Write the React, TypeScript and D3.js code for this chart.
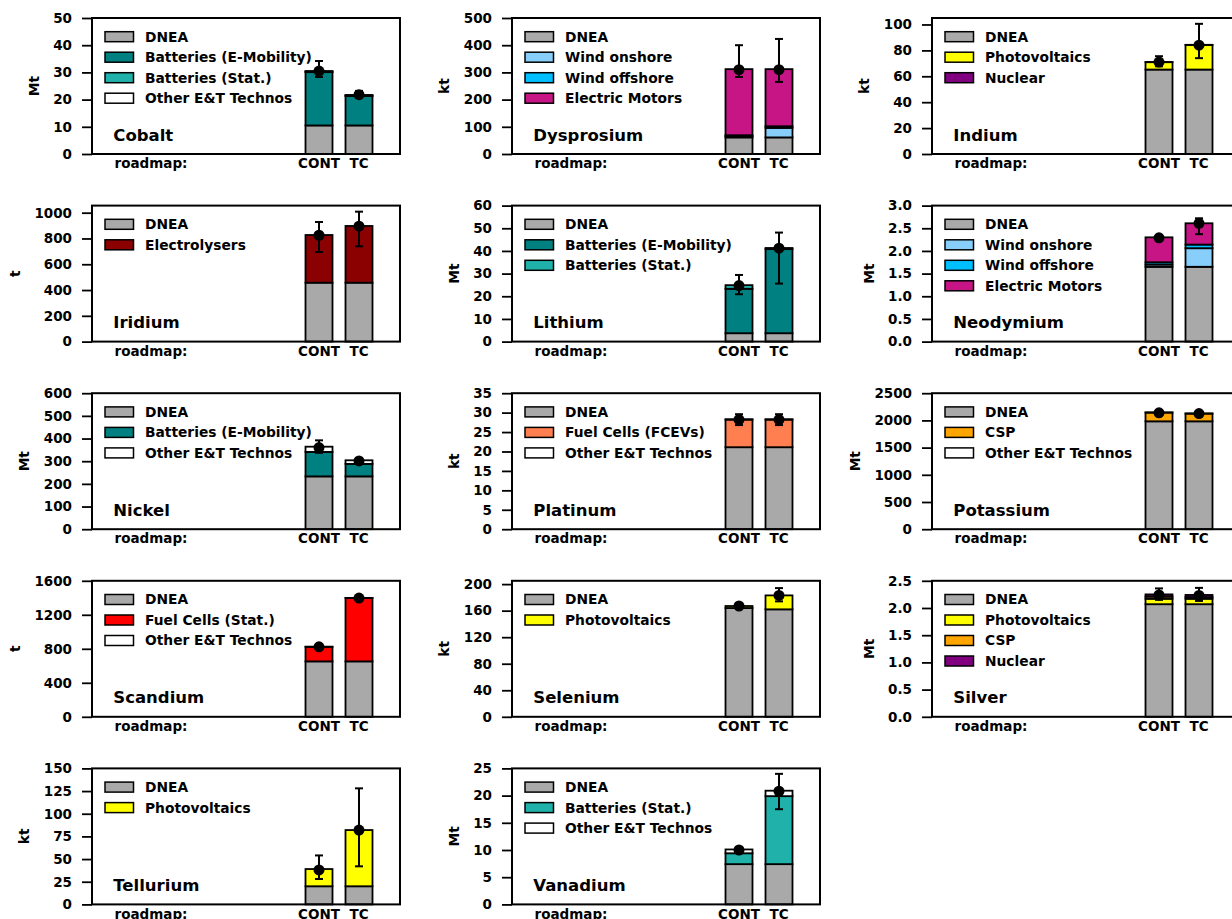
import React, { useEffect, useRef } from "react";
import * as d3 from "d3";

// Raw-material demand by roadmap, split by technology
const roadmaps = ["CONT", "TC"];

const materials = [
  "Cobalt", "Dysprosium", "Indium",
  "Iridium", "Lithium", "Neodymium",
  "Nickel", "Platinum", "Potassium",
  "Scandium", "Selenium", "Silver",
  "Tellurium", "Vanadium",
];

const units = ["Mt", "kt", "kt", "t", "Mt", "Mt", "Mt", "kt", "Mt", "t", "kt", "Mt", "kt", "Mt"];

const yMax = [50, 500, 105, 1055, 60, 3, 600, 35, 2500, 1600, 205, 2.5, 150, 25];

const yTickValues = [
  [0, 10, 20, 30, 40, 50],
  [0, 100, 200, 300, 400, 500],
  [0, 20, 40, 60, 80, 100],
  [0, 200, 400, 600, 800, 1000],
  [0, 10, 20, 30, 40, 50, 60],
  [0, 0.5, 1, 1.5, 2, 2.5, 3],
  [0, 100, 200, 300, 400, 500, 600],
  [0, 5, 10, 15, 20, 25, 30, 35],
  [0, 500, 1000, 1500, 2000, 2500],
  [0, 400, 800, 1200, 1600],
  [0, 40, 80, 120, 160, 200],
  [0, 0.5, 1, 1.5, 2, 2.5],
  [0, 25, 50, 75, 100, 125, 150],
  [0, 5, 10, 15, 20, 25],
];

const tickDecimals = [0, 0, 0, 0, 0, 1, 0, 0, 0, 0, 0, 1, 0, 0];

const legendItems = [
  ["DNEA", "Batteries (E-Mobility)", "Batteries (Stat.)", "Other E&T Technos"],
  ["DNEA", "Wind onshore", "Wind offshore", "Electric Motors"],
  ["DNEA", "Photovoltaics", "Nuclear"],
  ["DNEA", "Electrolysers"],
  ["DNEA", "Batteries (E-Mobility)", "Batteries (Stat.)"],
  ["DNEA", "Wind onshore", "Wind offshore", "Electric Motors"],
  ["DNEA", "Batteries (E-Mobility)", "Other E&T Technos"],
  ["DNEA", "Fuel Cells (FCEVs)", "Other E&T Technos"],
  ["DNEA", "CSP", "Other E&T Technos"],
  ["DNEA", "Fuel Cells (Stat.)", "Other E&T Technos"],
  ["DNEA", "Photovoltaics"],
  ["DNEA", "Photovoltaics", "CSP", "Nuclear"],
  ["DNEA", "Photovoltaics"],
  ["DNEA", "Batteries (Stat.)", "Other E&T Technos"],
];

// one [CONT, TC] pair per legend entry
const layerValues = [
  [[10.5, 10.5], [19.6, 10.8], [0.2, 0.2], [0.2, 0.2]],
  [[61, 61], [4, 35], [4, 6], [243, 210]],
  [[65.2, 65.2], [5.7, 19], [0.1, 0.1]],
  [[457, 457], [370, 440]],
  [[3.7, 3.7], [19.6, 37.1], [1.6, 0.5]],
  [[1.65, 1.65], [0.05, 0.41], [0.05, 0.08], [0.55, 0.47]],
  [[233, 233], [108, 55], [23, 16]],
  [[21.1, 21.1], [7.1, 7.1], [0.1, 0.1]],
  [[1983, 1983], [160, 141], [5, 5]],
  [[652, 652], [171, 745], [2, 2]],
  [[164, 162], [3, 21]],
  [[2.07, 2.07], [0.1, 0.1], [0.04, 0.03], [0.04, 0.04]],
  [[20, 20], [19, 62]],
  [[7.4, 7.4], [2.0, 12.5], [0.7, 1.0]],
];

const meanValues = [
  [30.5, 21.8], [310, 310], [71, 84], [825, 895], [24.7, 41.2], [2.29, 2.61], [360, 301],
  [28.2, 28.2], [2140, 2125], [823, 1397], [167, 183], [2.24, 2.23], [38, 82], [10.0, 20.8],
];

const errorLow = [
  [28.3, 20.6], [283, 265], [67.7, 74], [695, 739], [20.9, 25.6], [2.26, 2.37], [337, 294],
  [26.8, 26.8], [2110, 2095], [810, 1385], [164, 174], [2.15, 2.13], [28, 42], [9.7, 17.5],
];

const errorHigh = [
  [34.2, 23.2], [400, 423], [75.5, 100.5], [928, 1008], [29.4, 48.1], [2.32, 2.72], [392, 308],
  [29.6, 29.6], [2170, 2155], [836, 1410], [170, 194], [2.36, 2.37], [54, 128], [10.3, 24.0],
];

const techColors: Record<string, string> = {
  "DNEA": "#a9a9a9",
  "Batteries (E-Mobility)": "#008080",
  "Batteries (Stat.)": "#20b2aa",
  "Other E&T Technos": "#ffffff",
  "Wind onshore": "#87cefa",
  "Wind offshore": "#00bfff",
  "Electric Motors": "#c71585",
  "Photovoltaics": "#ffff00",
  "Nuclear": "#800080",
  "Electrolysers": "#8b0000",
  "Fuel Cells (FCEVs)": "#ff7f50",
  "CSP": "#ffa500",
  "Fuel Cells (Stat.)": "#ff0000",
};

const W = 1232;
const H = 919;
const FONT = "DejaVu Sans, Verdana, sans-serif";

export default function App() {
  const ref = useRef<SVGSVGElement | null>(null);

  useEffect(() => {
    const svg = d3.select(ref.current);
    svg.selectAll("*").remove();

    const panelW = 308;
    const panelH = 136;
    const colStep = 420;
    const rowStep = 187.6;
    const left0 = 92;
    const top0 = 18;

    // category slots: the "roadmap:" caption, then the two bars
    const slotPos = [0, 4.2, 5.2];
    const barWidth = 0.675;

    materials.forEach((name, i) => {
      const row = Math.floor(i / 3);
      const col = i % 3;
      const g = svg
        .append("g")
        .attr("transform", `translate(${left0 + col * colStep},${top0 + row * rowStep})`)
        .style("font-family", FONT)
        .style("font-weight", "bold");

      const x = d3.scaleLinear().domain([-1.475, 6.225]).range([0, panelW]);
      const y = d3.scaleLinear().domain([0, yMax[i]]).range([panelH, 0]);

      const layers = legendItems[i];
      const rows = roadmaps.map((r, j) => {
        const o: Record<string, number | string> = { roadmap: r };
        layers.forEach((l, k) => (o[l] = layerValues[i][k][j]));
        return o;
      });
      const stacked = d3.stack<any>().keys(layers)(rows);

      // stacked bars
      stacked.forEach((series) => {
        g.append("g")
          .selectAll("rect")
          .data(series)
          .join("rect")
          .attr("x", (_d, j) => x(slotPos[j + 1] - barWidth / 2))
          .attr("width", x(barWidth) - x(0))
          .attr("y", (d) => y(d[1]))
          .attr("height", (d) => y(d[0]) - y(d[1]))
          .attr("fill", techColors[series.key])
          .attr("stroke", "#000")
          .attr("stroke-width", 1.8);
      });

      // error bars and mean markers
      roadmaps.forEach((_r, j) => {
        const cx = x(slotPos[j + 1]);
        const eg = g.append("g");
        eg.append("line")
          .attr("x1", cx).attr("x2", cx)
          .attr("y1", y(errorLow[i][j])).attr("y2", y(errorHigh[i][j]))
          .attr("stroke", "#000").attr("stroke-width", 2);
        [errorLow[i][j], errorHigh[i][j]].forEach((v) => {
          eg.append("line")
            .attr("x1", cx - 4).attr("x2", cx + 4)
            .attr("y1", y(v)).attr("y2", y(v))
            .attr("stroke", "#000").attr("stroke-width", 2);
        });
        eg.append("circle")
          .attr("cx", cx).attr("cy", y(meanValues[i][j]))
          .attr("r", 5.5).attr("fill", "#000");
      });

      // y axis
      const fmt = tickDecimals[i] ? d3.format(".1f") : d3.format("d");
      const axisG = g
        .append("g")
        .call(
          d3.axisLeft(y)
            .tickValues(yTickValues[i])
            .tickSize(10)
            .tickPadding(10)
            .tickFormat((d) => fmt(d as number))
        );
      axisG.select(".domain").remove();
      axisG.selectAll(".tick line").attr("stroke", "#000").attr("stroke-width", 1.8);
      axisG.selectAll(".tick text")
        .attr("fill", "#000")
        .style("font-family", FONT)
        .style("font-weight", "bold")
        .style("font-size", "13.5px");

      const bb = (axisG.node() as SVGGElement).getBBox();
      g.append("text")
        .attr("transform", `translate(${bb.x - 19.5},${panelH / 2}) rotate(-90)`)
        .attr("text-anchor", "middle")
        .attr("dominant-baseline", "central")
        .style("font-size", "13.8px")
        .text(units[i]);

      // x labels
      const xLabels = ["roadmap:", ...roadmaps];
      g.append("g")
        .selectAll("text")
        .data(xLabels)
        .join("text")
        .attr("x", (_d, k) => x(slotPos[k]))
        .attr("y", panelH + 14.3)
        .attr("text-anchor", "middle")
        .style("font-size", "13.5px")
        .text((d) => d);

      // frame
      g.append("rect")
        .attr("x", 0).attr("y", 0)
        .attr("width", panelW).attr("height", panelH)
        .attr("fill", "none").attr("stroke", "#000").attr("stroke-width", 2);

      // legend
      const lg = g.append("g");
      layers.forEach((l, k) => {
        const cy = 18.7 + k * 20.5;
        lg.append("rect")
          .attr("x", 13).attr("y", cy - 5)
          .attr("width", 28.5).attr("height", 10)
          .attr("fill", techColors[l])
          .attr("stroke", "#000").attr("stroke-width", 1.5);
        lg.append("text")
          .attr("x", 53).attr("y", cy)
          .attr("dy", "0.36em")
          .style("font-size", "13.8px")
          .text(l);
      });

      // material name
      g.append("text")
        .attr("x", 21.3).attr("y", 122.7)
        .style("font-size", "16.5px")
        .text(name);
    });
  }, []);

  return (
    <svg
      ref={ref}
      width={W}
      height={H}
      style={{ position: "absolute", left: 0, top: 0, background: "#fff" }}
    />
  );
}
